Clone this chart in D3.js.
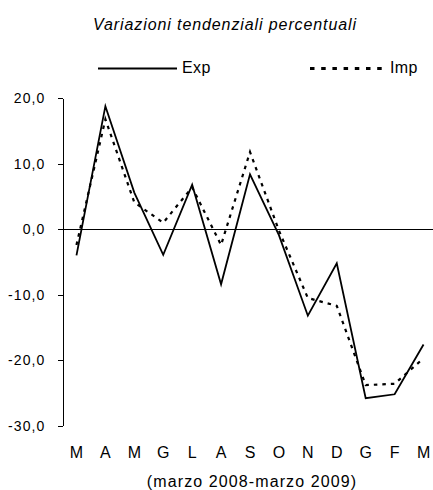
<!DOCTYPE html>
<html lang="it">
<head>
<meta charset="utf-8">
<title>Variazioni tendenziali percentuali</title>
<script src="https://cdn.jsdelivr.net/npm/d3@7/dist/d3.min.js"></script>
<style>
    html, body { margin: 0; padding: 0; background: #fff; }
    svg { display: block; font-family: "Liberation Sans", Arial, sans-serif; }
    .axis text { fill: #000; font-size: 14px; letter-spacing: 1.1px; }
    .axis path, .axis line { stroke: #000; stroke-width: 1; shape-rendering: crispEdges; }
    .x-axis text { font-size: 16px; letter-spacing: 0; }
    .series { fill: none; stroke: #000; stroke-linejoin: miter; }
</style>
</head>
<body>
<svg id="chart" width="433" height="490"></svg>
<script>
"use strict";

// months from march 2008 to march 2009 (italian initials)
const MONTHS = ['M', 'A', 'M', 'G', 'L', 'A', 'S', 'O', 'N', 'D', 'G', 'F', 'M'];

// percentage year-on-year variations
const EXP_VALUES = [-4.0, 18.8, 5.6, -3.9, 6.8, -8.4, 8.4, -0.9, -13.2, -5.2, -25.8, -25.2, -17.6];
const IMP_VALUES = [-2.4, 16.8, 4.1, 1.0, 6.4, -2.4, 11.8, -0.2, -10.5, -11.7, -23.8, -23.6, -19.7];

const Y_TICKS = [20, 10, 0, -10, -20, -30];

const TITLE = 'Variazioni tendenziali percentuali';
const SUBTITLE = '(marzo 2008-marzo 2009)';

const SERIES = [
    { name: 'Exp', values: EXP_VALUES, dash: null, width: 1.8, legendDash: null, legendWidth: 1.8 },
    { name: 'Imp', values: IMP_VALUES, dash: '3.5,5', width: 2.2, legendDash: '4.5,6.7', legendWidth: 2.8 },
];

const svg = d3.select('#chart');

// scales
const xScale = d3.scaleBand().domain(d3.range(MONTHS.length)).range([62, 438]).padding(0);
const yScale = d3.scaleLinear().domain([-30, 20]).range([425.7, 98.3]);
const xCenter = i => xScale(i) + xScale.bandwidth() / 2;

// title
svg.append('text')
    .attr('x', 225)
    .attr('y', 30)
    .attr('text-anchor', 'middle')
    .style('font-size', '16px')
    .style('font-style', 'italic')
    .style('letter-spacing', '0.9px')
    .text(TITLE);

// legend
const legendItems = [
    { series: SERIES[0], x0: 98, x1: 177, textX: 182 },
    { series: SERIES[1], x0: 310, x1: 387, textX: 390 },
];
for (const item of legendItems) {
    svg.append('line')
        .attr('x1', item.x0).attr('x2', item.x1)
        .attr('y1', 68.5).attr('y2', 68.5)
        .attr('stroke', '#000')
        .attr('stroke-width', item.series.legendWidth)
        .attr('stroke-dasharray', item.series.legendDash);
    svg.append('text')
        .attr('x', item.textX)
        .attr('y', 73)
        .style('font-size', '16px')
        .style('letter-spacing', '0.4px')
        .text(item.series.name);
}

// y axis
const yAxis = d3.axisLeft(yScale)
    .tickValues(Y_TICKS)
    .tickSize(5)
    .tickSizeOuter(0)
    .tickPadding(12)
    .tickFormat(d => d.toFixed(1).replace('.', ','));
svg.append('g')
    .classed('axis y-axis', true)
    .attr('transform', 'translate(62.5, 0)')
    .call(yAxis);

// zero line across the plot
svg.append('line')
    .attr('x1', xScale.range()[0]).attr('x2', xScale.range()[1])
    .attr('y1', yScale(0)).attr('y2', yScale(0))
    .attr('stroke', '#000')
    .attr('stroke-width', 1)
    .attr('shape-rendering', 'crispEdges');

// x axis: only the month letters, no line
const xAxis = d3.axisBottom(xScale)
    .tickSize(0)
    .tickPadding(0)
    .tickFormat(i => MONTHS[i]);
const xAxisGroup = svg.append('g')
    .classed('axis x-axis', true)
    .attr('transform', 'translate(0, 447)')
    .call(xAxis);
xAxisGroup.select('.domain').remove();

svg.append('text')
    .attr('x', 252)
    .attr('y', 486.5)
    .attr('text-anchor', 'middle')
    .style('font-size', '16px')
    .style('letter-spacing', '1.1px')
    .text(SUBTITLE);

// series lines (imports first so exports sit on top)
const lineFunction = d3.line().x((d, i) => xCenter(i)).y(d => yScale(d));
for (const series of SERIES.slice().reverse()) {
    svg.append('path')
        .datum(series.values)
        .classed('series', true)
        .attr('stroke-width', series.width)
        .attr('stroke-dasharray', series.dash)
        .attr('d', lineFunction);
}
</script>
</body>
</html>
